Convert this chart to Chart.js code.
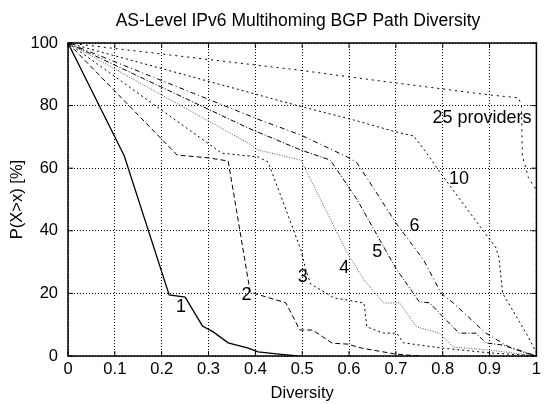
<!DOCTYPE html>
<html>
<head>
<meta charset="utf-8">
<script src="https://cdn.jsdelivr.net/npm/chart.js@4/dist/chart.umd.min.js"></script>
<style>
  html, body { margin: 0; padding: 0; background: #fff; }
</style>
</head>
<body>
<canvas id="diversity" width="545" height="404"></canvas>
<script>
// P(X>x) curves, one pair of arrays per number of upstream providers
const div1 = [0, 0.12, 0.216, 0.25, 0.287, 0.31, 0.342, 0.385, 0.406, 0.45, 0.49];
const pct1 = [100, 64, 19.5, 18.8, 9.6, 7.7, 4.2, 2.5, 1.3, 0.6, 0];

const div2 = [0, 0.233, 0.30, 0.342, 0.389, 0.465, 0.495, 0.522, 0.564, 0.596, 0.628, 0.70, 0.75];
const pct2 = [100, 64.2, 63.3, 62.3, 20.4, 17, 8.3, 8.3, 4.1, 3.8, 2.5, 0.6, 0];

const div3 = [0, 0.328, 0.406, 0.427, 0.448, 0.497, 0.507, 0.518, 0.569, 0.596, 0.632, 0.638, 0.674, 0.702, 0.716, 0.80, 0.90, 1];
const pct3 = [100, 64.8, 63.6, 62, 53.7, 34, 28, 23, 18.5, 17.9, 16.9, 9.3, 7.3, 7.3, 4.2, 2.5, 1, 0];

const div4 = [0, 0.385, 0.406, 0.497, 0.505, 0.529, 0.596, 0.632, 0.674, 0.708, 0.744, 0.793, 0.822, 0.899, 1];
const pct4 = [100, 68, 65.8, 62.6, 60.4, 53, 33, 24.3, 16.9, 17, 9.3, 7.3, 2.9, 1.9, 0];

const div5 = [0, 0.385, 0.497, 0.56, 0.617, 0.666, 0.70, 0.75, 0.772, 0.793, 0.835, 0.871, 0.892, 0.928, 0.977, 1];
const pct5 = [100, 72.8, 65.8, 62.6, 50, 37, 28, 17.3, 17, 13.7, 7.3, 7.3, 4.2, 3.5, 1, 0];

const div6 = [0, 0.41, 0.497, 0.596, 0.617, 0.655, 0.70, 0.759, 0.797, 0.822, 0.892, 0.94, 1];
const pct6 = [100, 75.4, 70.6, 63.6, 61.7, 53, 42.5, 30.7, 20, 17, 7.3, 3, 0];

const div10 = [0, 0.49, 0.61, 0.70, 0.738, 0.765, 0.786, 0.822, 0.899, 0.913, 0.92, 0.928, 0.94, 0.983, 1, 1];
const pct10 = [100, 80, 75.4, 71.6, 70.3, 65, 60.4, 53, 37.5, 34.8, 31.5, 20, 17, 6, 1, 0];

const div25 = [0, 0.49, 0.66, 0.90, 0.962, 0.968, 0.97, 0.983, 1, 1];
const pct25 = [100, 91.4, 88, 83.4, 82.5, 80, 64, 57, 53, 0];

// tick values and their labels
const xTicks = [0, 0.1, 0.2, 0.3, 0.4, 0.5, 0.6, 0.7, 0.8, 0.9, 1];
const xTickLabels = ['0', '0.1', '0.2', '0.3', '0.4', '0.5', '0.6', '0.7', '0.8', '0.9', '1'];
const yTicks = [0, 20, 40, 60, 80, 100];
const yTickLabels = ['0', '20', '40', '60', '80', '100'];

// in-plot curve labels (data coordinates)
const curveLabels = ['1', '2', '3', '4', '5', '6', '10', '25 providers'];
const labelX = [0.241, 0.381, 0.501, 0.590, 0.660, 0.740, 0.835, 0.884];
const labelY = [15.7, 19.5, 25.2, 28.1, 33.2, 41.5, 56.5, 76.0];

const FONT = '"Liberation Sans", Arial, Helvetica, sans-serif';

const toPoints = (xs, ys) => xs.map((v, i) => ({ x: v, y: ys[i] }));

const curve = (xs, ys, dash, color, width) => ({
  data: toPoints(xs, ys),
  borderColor: color,
  borderWidth: width,
  borderDash: dash,
  pointRadius: 0,
  fill: false,
  tension: 0,
});

// frame, inward ticks, curve labels and title
const annotate = {
  id: 'annotate',
  afterDatasetsDraw(chart) {
    const { ctx, chartArea: a, scales: { x, y } } = chart;
    ctx.save();
    ctx.strokeStyle = '#000';
    ctx.lineWidth = 1;
    ctx.beginPath();
    xTicks.forEach((v) => {
      const px = x.getPixelForValue(v);
      ctx.moveTo(px, a.bottom); ctx.lineTo(px, a.bottom - 5);
      ctx.moveTo(px, a.top); ctx.lineTo(px, a.top + 5);
    });
    yTicks.forEach((v) => {
      const py = y.getPixelForValue(v);
      ctx.moveTo(a.left, py); ctx.lineTo(a.left + 5, py);
      ctx.moveTo(a.right, py); ctx.lineTo(a.right - 5, py);
    });
    ctx.stroke();
    ctx.lineWidth = 1.5;
    ctx.strokeRect(a.left, a.top, a.right - a.left, a.bottom - a.top);

    ctx.fillStyle = '#000';
    ctx.textAlign = 'center';
    ctx.textBaseline = 'middle';
    ctx.font = '18px ' + FONT;
    curveLabels.forEach((t, i) => {
      ctx.fillText(t, x.getPixelForValue(labelX[i]), y.getPixelForValue(labelY[i]));
    });

    ctx.font = '17.5px ' + FONT;
    ctx.fillText('AS-Level IPv6 Multihoming BGP Path Diversity', 298, 21);
    ctx.restore();
  },
};

new Chart(document.getElementById('diversity'), {
  type: 'line',
  data: {
    datasets: [
      curve(div1, pct1, [], '#000', 1.3),
      curve(div2, pct2, [5, 3], '#000', 1),
      curve(div3, pct3, [2, 3], '#000', 1),
      curve(div4, pct4, [1, 1.5], '#555', 1),
      curve(div5, pct5, [5, 2, 1, 2], '#000', 1),
      curve(div6, pct6, [5, 3, 1, 3], '#000', 1),
      curve(div10, pct10, [2, 3], '#000', 1),
      curve(div25, pct25, [2, 4], '#000', 1),
    ],
  },
  options: {
    responsive: false,
    animation: false,
    devicePixelRatio: 1,
    layout: { padding: { top: 43, right: 4, left: 0, bottom: 0 } },
    plugins: {
      legend: { display: false },
      tooltip: { enabled: false },
    },
    scales: {
      x: {
        type: 'linear',
        min: 0,
        max: 1,
        afterBuildTicks: (s) => { s.ticks = xTicks.map((v) => ({ value: v })); },
        afterFit: (s) => { s.height = 48; },
        ticks: {
          color: '#000',
          padding: 4,
          maxRotation: 0,
          autoSkip: false,
          font: { family: FONT, size: 16.5 },
          callback: (v, i) => xTickLabels[i],
        },
        grid: { color: '#000', lineWidth: 1, drawTicks: false },
        border: { display: false, dash: [1, 2] },
        title: {
          display: true,
          text: 'Diversity',
          color: '#000',
          font: { family: FONT, size: 16.5 },
          padding: { top: 0, bottom: 1 },
        },
      },
      y: {
        type: 'linear',
        min: 0,
        max: 100,
        afterBuildTicks: (s) => { s.ticks = yTicks.map((v) => ({ value: v })); },
        afterFit: (s) => { s.width = 68; },
        ticks: {
          color: '#000',
          padding: 10,
          autoSkip: false,
          font: { family: FONT, size: 16.5 },
          callback: (v, i) => yTickLabels[i],
        },
        grid: { color: '#000', lineWidth: 1, drawTicks: false },
        border: { display: false, dash: [1, 2] },
        title: {
          display: true,
          text: 'P(X>x) [%]',
          color: '#000',
          font: { family: FONT, size: 16.5 },
          padding: { top: 8, bottom: 0 },
        },
      },
    },
  },
  plugins: [annotate],
});
</script>
</body>
</html>
